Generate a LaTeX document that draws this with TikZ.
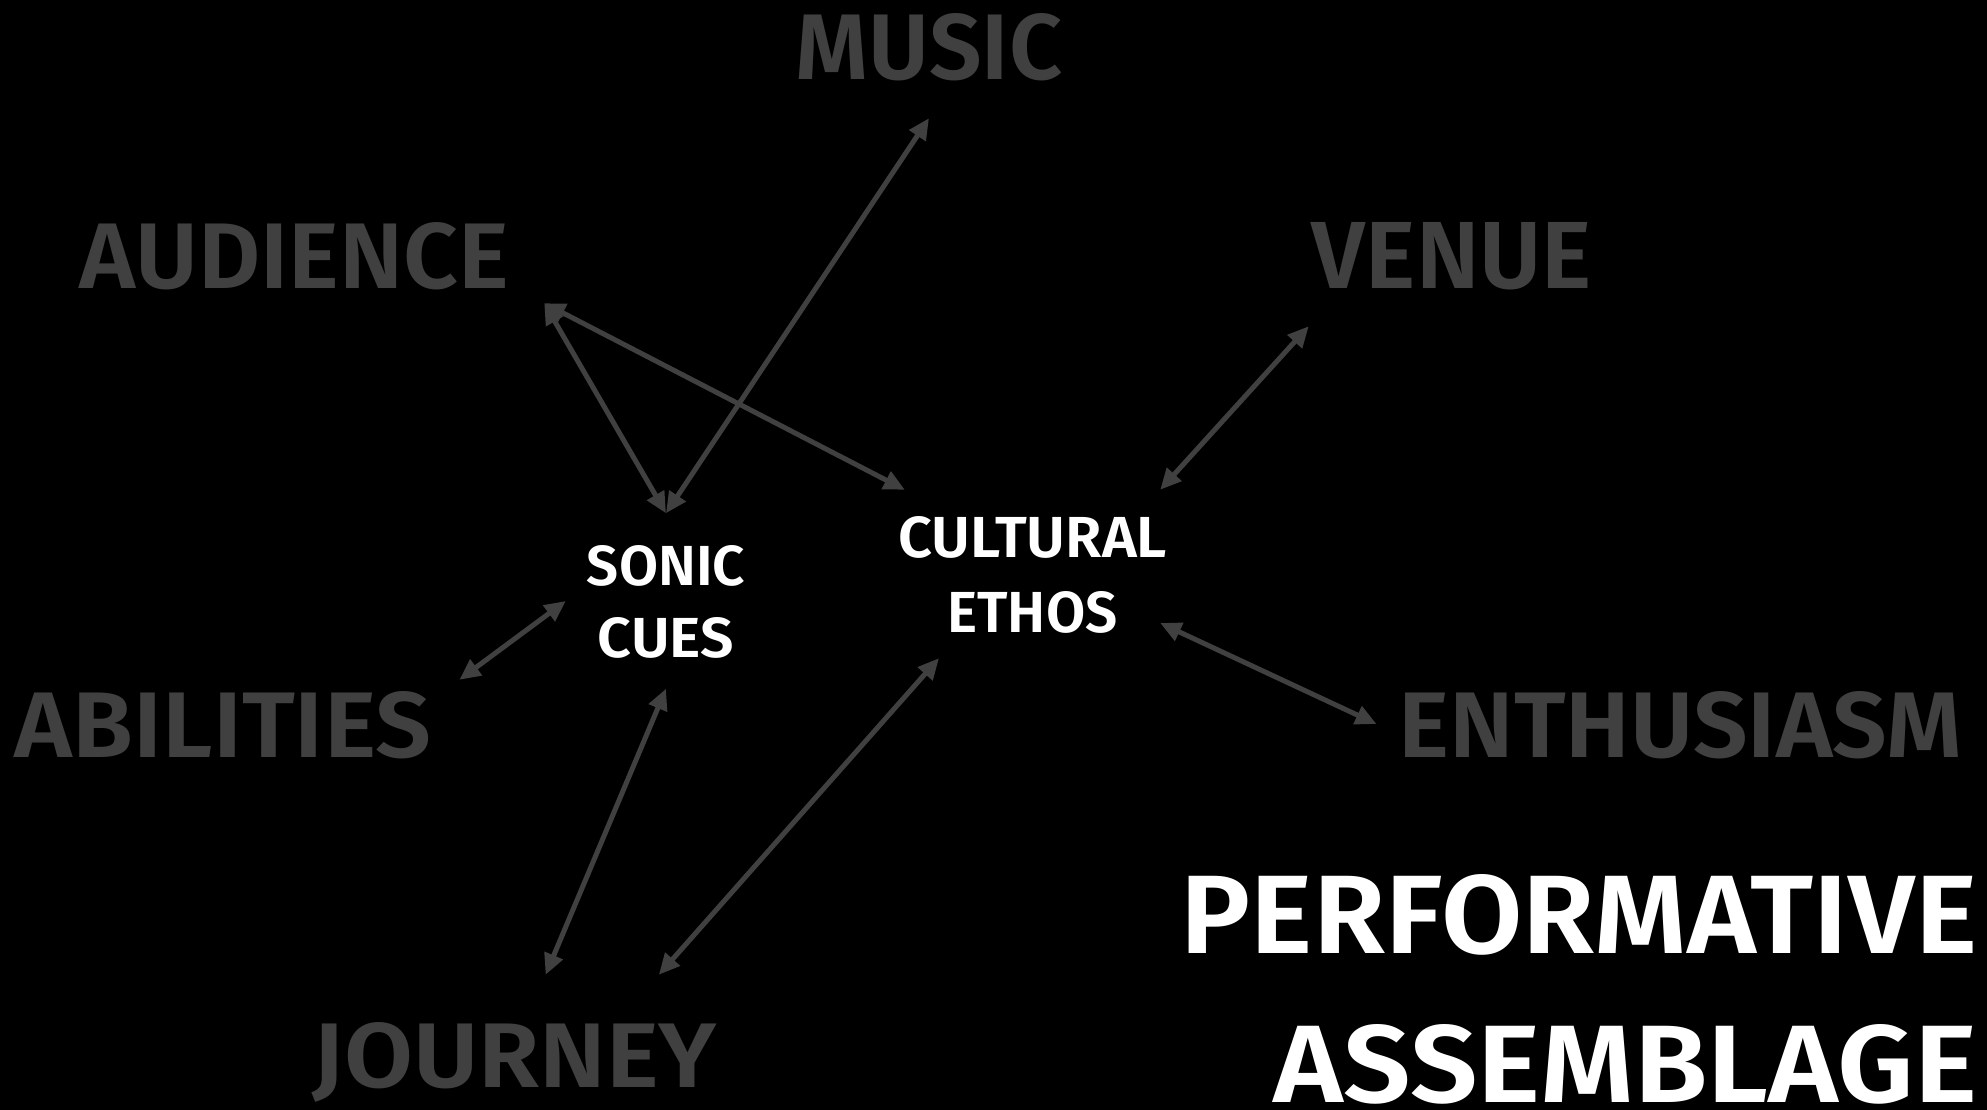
\documentclass[tikz,border=0pt]{standalone}
\usepackage{fontspec}
\setmainfont{Fira Sans SemiBold}
\usetikzlibrary{arrows.meta}
\definecolor{dimgray}{HTML}{404040}
\newcommand{\fitbox}[3]{\resizebox{#1pt}{#2pt}{\raisebox{0pt}[\height][0pt]{#3}}}
\newcommand{\fitline}[3]{\makebox[0pt]{\fitbox{#1}{#2}{#3}}}
\tikzset{
  lab/.style={text=dimgray, inner sep=0pt},
  core/.style={text=white, align=center, inner sep=0pt},
  link/.style={draw=dimgray, line width=5pt,
    {Triangle[length=21pt,width=19pt]}-{Triangle[length=21pt,width=19pt]}},
}
\begin{document}
\begin{tikzpicture}[x=1pt,y=-1pt]
\useasboundingbox (0,0) rectangle (1987,1110);
\fill[black] (0,0) rectangle (1987,1110);

\node[lab, inner xsep=2pt, inner ysep=39pt] (music) at (929,46) {\fitbox{266}{66}{MUSIC}};
\node[lab, inner xsep=35pt, inner ysep=15pt] (audience) at (294.5,255) {\fitbox{429}{66}{AUDIENCE}};
\node[lab, inner xsep=3pt, inner ysep=38pt] (venue) at (1452,255) {\fitbox{280}{66}{VENUE}};
\node[lab, inner xsep=28pt, inner ysep=11pt] (abilities) at (223,724) {\fitbox{416}{66}{ABILITIES}};
\node[lab, inner xsep=22pt, inner ysep=0pt] (enthusiasm) at (1680.5,724) {\fitbox{563}{66}{ENTHUSIASM}};
\node[lab, inner xsep=5pt, inner ysep=47pt] (journey) at (515,1054.5) {\fitbox{404}{65}{JOURNEY}};

\node[core, minimum width=200pt, minimum height=175pt,
      font=\fontsize{40}{72}\selectfont] (sonic) at (666,601)
  {\fitline{158}{40}{SONIC}\\\fitline{136}{40}{CUES}};
\node[core, minimum width=255pt, minimum height=168pt,
      font=\fontsize{40}{75}\selectfont] (cultural) at (1032.5,574)
  {\fitline{269}{41}{CULTURAL}\\\fitline{170}{41}{ETHOS}};

\node[core] (perf) at (1579,913.5) {\fitbox{796}{79}{PERFORMATIVE}};
\node[core] (assem) at (1625.5,1063) {\fitbox{703}{78}{ASSEMBLAGE}};

\draw[link] (music.south) -- (sonic.north);
\draw[link] (audience.south east) -- (sonic.north);
\draw[link] (audience.south east) -- (cultural.north west);
\draw[link] (venue.south west) -- (cultural.north east);
\draw[link] (abilities.north east) -- (sonic.west);
\draw[link] (enthusiasm.west) -- (cultural.-21);
\draw[link] (journey.69) -- (sonic.south);
\draw[link] (journey.29) -- (cultural.222);
\end{tikzpicture}
\end{document}
